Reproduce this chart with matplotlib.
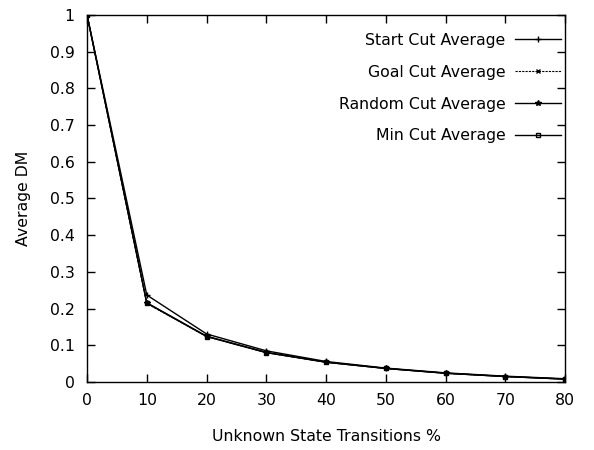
import matplotlib
matplotlib.use('Agg')
from matplotlib import pyplot as plt

# data
x_pct = [0, 10, 20, 30, 40, 50, 60, 70, 80]
start_cut = [1.0, 0.237, 0.131, 0.085, 0.056, 0.038, 0.025, 0.016, 0.009]
goal_cut = [1.0, 0.214, 0.124, 0.080, 0.054, 0.037, 0.024, 0.015, 0.008]
random_cut = [1.0, 0.216, 0.125, 0.081, 0.054, 0.037, 0.024, 0.015, 0.008]
min_cut = [1.0, 0.215, 0.124, 0.080, 0.054, 0.037, 0.024, 0.015, 0.008]

plt.rcParams['font.family'] = ['DejaVu Sans']
plt.rcParams['font.size'] = 11.3

fig = plt.figure(figsize=(5.94, 4.5), dpi=100)
ax = fig.add_axes([0.1465, 0.151, 0.805, 0.816])

ax.plot(x_pct, start_cut, color='black', lw=1, marker='+', ms=4, label='Start Cut Average')
ax.plot(x_pct, goal_cut, color='black', lw=0.8, ls=(0, (2, 1)), marker='x', ms=3, label='Goal Cut Average')
ax.plot(x_pct, random_cut, color='black', lw=1, marker='*', ms=4, label='Random Cut Average')
ax.plot(x_pct, min_cut, color='black', lw=1, marker='s', ms=2.5, mfc='none', label='Min Cut Average')

ax.set_xlim(0, 80)
ax.set_ylim(0, 1)
ax.set_xticks(range(0, 81, 10))
ax.set_yticks([i / 10 for i in range(11)])
ax.set_yticklabels(['0', '0.1', '0.2', '0.3', '0.4', '0.5', '0.6', '0.7', '0.8', '0.9', '1'])
ax.tick_params(direction='in', top=True, right=True, length=6, width=1)
ax.tick_params(axis='y', pad=9)
ax.tick_params(axis='x', pad=8)
for s in ax.spines.values():
    s.set_linewidth(1)

ax.set_xlabel('Unknown State Transitions %', labelpad=15)
ax.set_ylabel('Average DM', labelpad=13)

ax.legend(loc='upper right', frameon=False, markerfirst=False, handlelength=2.9,
          handletextpad=0.6, labelspacing=1.08, bbox_to_anchor=(1.02, 0.99))

fig.savefig('out.png', dpi=100)
